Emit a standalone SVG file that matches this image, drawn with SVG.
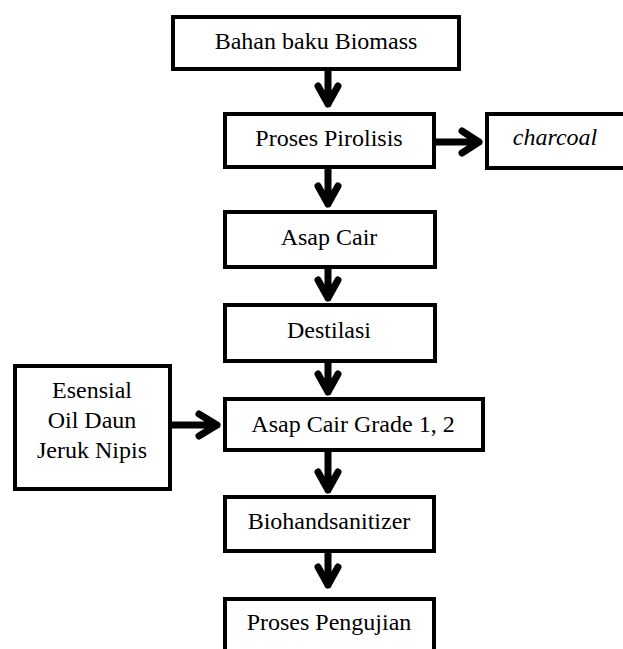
<svg xmlns="http://www.w3.org/2000/svg" width="623" height="649" viewBox="0 0 623 649">
<style>
.box{fill:#fff;stroke:#000;stroke-width:4}
.t{font-family:"Liberation Serif","Times New Roman",serif;font-size:24px;fill:#000;text-anchor:middle}
.i{font-style:italic}
.c{fill:none;stroke:#000;stroke-width:7;stroke-linecap:round;stroke-linejoin:round}
</style>
<rect width="623" height="649" fill="#fff"/>
<g id="connectors">
<path class="c" d="M328,71 V104 M318,86 L328,104 L338,86"/>
<path class="c" d="M328,169 V204 M318,186 L328,204 L338,186"/>
<path class="c" d="M328,269 V298 M318,280 L328,298 L338,280"/>
<path class="c" d="M328,363 V392 M318,374 L328,392 L338,374"/>
<path class="c" d="M328,452 V490 M318,472 L328,490 L338,472"/>
<path class="c" d="M328,553 V585 M318,567 L328,585 L338,567"/>
<path class="c" d="M436,142 H479 M462,131 L479,142 L462,153"/>
<path class="c" d="M172,425 H217 M199,414 L217,425 L199,436"/>
</g>
<g id="n1"><rect class="box" x="173" y="17" width="286" height="52"/><text class="t" x="316" y="49">Bahan baku Biomass</text></g>
<g id="n2"><rect class="box" x="225" y="114" width="209" height="53"/><text class="t" x="329" y="146">Proses Pirolisis</text></g>
<g id="n3"><rect class="box" x="487" y="114" width="145" height="54"/><text class="t i" x="555" y="145">charcoal</text></g>
<g id="n4"><rect class="box" x="225" y="212" width="210" height="55"/><text class="t" x="329" y="245">Asap Cair</text></g>
<g id="n5"><rect class="box" x="225" y="305" width="210" height="56"/><text class="t" x="329" y="338">Destilasi</text></g>
<g id="n6"><rect class="box" x="225" y="399" width="258" height="51"/><text class="t" x="353" y="432">Asap Cair Grade 1, 2</text></g>
<g id="n7"><rect class="box" x="15" y="366" width="155" height="123"/><text class="t" x="92" y="398">Esensial</text><text class="t" x="92" y="428">Oil Daun</text><text class="t" x="92" y="458">Jeruk Nipis</text></g>
<g id="n8"><rect class="box" x="225" y="497" width="209" height="54"/><text class="t" x="329" y="529">Biohandsanitizer</text></g>
<g id="n9"><rect class="box" x="225" y="599" width="209" height="70"/><text class="t" x="329" y="630">Proses Pengujian</text></g>
</svg>
